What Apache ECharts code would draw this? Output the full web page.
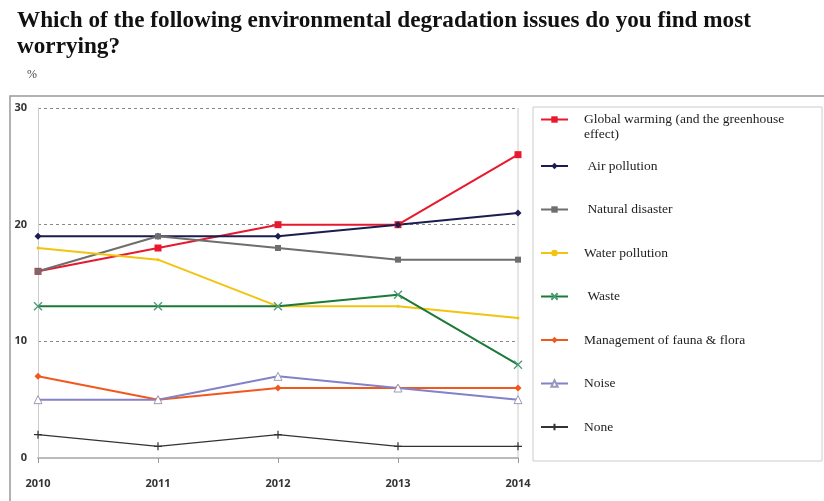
<!DOCTYPE html>
<html>
<head>
<meta charset="utf-8">
<script src="https://cdn.jsdelivr.net/npm/echarts@6/dist/echarts.min.js"></script>
<style>html,body{margin:0;padding:0;background:#fff}#c{width:824px;height:501px}</style>
</head>
<body>
<div id="c"></div>
<script>
var years = ['2010', '2011', '2012', '2013', '2014'];
var yTicks = [0, 10, 20, 30];
var globalWarming = [16, 18, 20, 20, 26];
var airPollution = [19, 19, 19, 20, 21];
var naturalDisaster = [16, 19, 18, 17, 17];
var waterPollution = [18, 17, 13, 13, 12];
var waste = [13, 13, 13, 14, 8];
var fauna = [7, 5, 6, 6, 6];
var noise = [5, 5, 7, 6, 5];
var none = [2, 1, 2, 1, 1];

var names = ['Global warming (and the greenhouse effect)', ' Air pollution', ' Natural disaster', 'Water pollution', ' Waste', 'Management of fauna & flora', 'Noise', 'None'];

var xPath = 'path://M0,0L10,10M10,0L0,10';
var plusPath = 'path://M5,0L5,10M0,5L10,5';

function s(name, data, color, symbol, size, extra) {
  var o = {
    name: name, type: 'line', data: data, symbol: symbol, symbolSize: size,
    lineStyle: {color: color, width: 2},
    itemStyle: {color: color},
    animation: false, z: 3
  };
  if (extra) { for (var k in extra) o[k] = extra[k]; }
  return o;
}

var chart = echarts.init(document.getElementById('c'));
chart.setOption({
  animation: false,
  title: {
    text: 'Which of the following environmental degradation issues do you find most\nworrying?',
    left: 12, top: 3,
    textStyle: {fontFamily: 'Liberation Serif', fontWeight: 'bold', fontSize: 23.2, color: '#111', lineHeight: 26}
  },
  graphic: [
    {type: 'text', left: 27, top: 69, style: {text: '%', font: '12px "Liberation Serif"', fill: '#444'}},
    {type: 'rect', shape: {x: 10, y: 96, width: 830, height: 430}, style: {fill: 'none', stroke: '#999', lineWidth: 1.5}, silent: true},
    {type: 'rect', shape: {x: 533, y: 107, width: 289, height: 354}, style: {fill: 'none', stroke: '#ccc', lineWidth: 1}, silent: true},
    {type: 'line', shape: {x1: 518, y1: 108, x2: 518, y2: 458}, style: {stroke: '#ccc', lineWidth: 1}, silent: true}
  ],
  legend: [
    {
      data: [names[0]], orient: 'vertical', left: 535, top: 92,
      itemWidth: 27, itemHeight: 8, itemGap: 0,
      formatter: function (n) { return '\n' + n.replace('greenhouse ', 'greenhouse\n'); },
      textStyle: {fontFamily: 'Liberation Serif', fontSize: 13.5, color: '#222', lineHeight: 15, padding: [0, 0, 0, 11]}
    },
    {
      data: names.slice(1), orient: 'vertical', left: 535, top: 154,
      itemWidth: 27, itemHeight: 8, itemGap: 29.5,
      textStyle: {fontFamily: 'Liberation Serif', fontSize: 13.5, color: '#222', lineHeight: 14, padding: [0, 0, 0, 11]}
    }
  ],
  grid: {left: 38, right: 306, top: 108, bottom: 43, containLabel: false},
  xAxis: {
    type: 'category', data: years, boundaryGap: false,
    axisLine: {lineStyle: {color: '#bbb', width: 2}},
    axisTick: {show: true, lineStyle: {color: '#999'}, length: 5},
    axisLabel: {fontFamily: 'Open Sans', fontSize: 11, color: '#333', margin: 20, fontWeight: 'bold'},
    splitLine: {show: false}
  },
  yAxis: {
    type: 'value', min: 0, max: 30, interval: 10,
    axisLine: {show: true, lineStyle: {color: '#ccc', width: 1}},
    axisTick: {show: false},
    axisLabel: {fontFamily: 'Open Sans', fontSize: 11, color: '#333', margin: 11, fontWeight: 'bold'},
    splitLine: {show: true, lineStyle: {color: '#888', type: [3, 3], width: 1}}
  },
  series: [
    s(names[0], globalWarming, '#e8182e', 'rect', 7),
    s(names[1], airPollution, '#1c1c50', 'diamond', 7),
    s(names[2], naturalDisaster, '#6e6e6e', 'rect', 6),
    s(names[3], waterPollution, '#f2c40f', 'circle', 3),
    s(names[4], waste, '#1a7a36', xPath, 8, {itemStyle: {color: 'none', borderColor: '#4a9a7a', borderWidth: 1.3}}),
    s(names[5], fauna, '#f2581e', 'diamond', 7),
    s(names[6], noise, '#8282c8', 'triangle', 8, {itemStyle: {color: '#fff', borderColor: '#9a9ab8', borderWidth: 1}}),
    s(names[7], none, '#333333', plusPath, 8, {lineStyle: {color: '#333', width: 1.2}, itemStyle: {color: 'none', borderColor: '#333', borderWidth: 1.2}})
  ]
});
</script>
</body>
</html>
